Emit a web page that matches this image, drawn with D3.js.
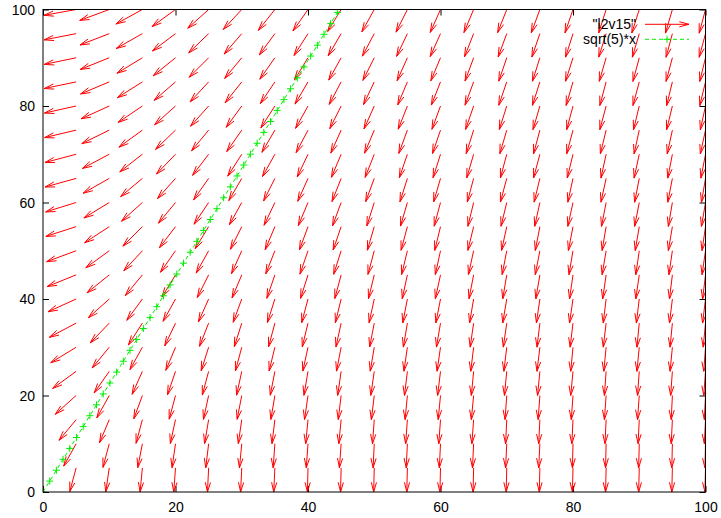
<!DOCTYPE html>
<html>
<head>
<meta charset="utf-8">
<script src="https://cdn.jsdelivr.net/npm/d3@7"></script>
<style>
  html, body { margin: 0; padding: 0; background: #fff; }
  svg { display: block; }
  text { font-family: "Liberation Sans", Arial, sans-serif; font-size: 14px; fill: #000; }
</style>
</head>
<body>
<svg id="chart" width="721" height="518"></svg>
<script>
// ---- data ----
const fieldX = [5,10,15,20,25,30,35,40,45,50,55,60,65,70,75,80,85,90,95,100];
const fieldY = [5,10,15,20,25,30,35,40,45,50,55,60,65,70,75,80,85,90,95,100];
// arrow direction per grid point: degrees below the leftward horizontal (rows follow fieldY)
const fieldAngles = [
  [79,84,86,87,88,88,88,89,89,89,89,89,89,89,89,89,89,89,89,89],
  [68,79,82,84,85,86,87,87,87,88,88,88,88,88,88,89,89,89,89,89],
  [59,73,79,81,83,84,85,86,86,87,87,87,87,88,88,88,88,88,88,88],
  [51,68,75,79,81,82,83,84,85,85,86,86,86,87,87,87,87,87,88,88],
  [45,63,72,76,79,81,82,83,84,84,85,85,86,86,86,86,87,87,87,87],
  [40,59,68,73,77,79,80,81,82,83,84,84,85,85,85,86,86,86,86,87],
  [36,55,65,71,74,77,79,80,81,82,83,83,84,84,85,85,85,86,86,86],
  [32,51,62,68,72,75,77,79,80,81,82,82,83,83,84,84,85,85,85,85],
  [29,48,59,66,70,73,76,77,79,80,81,81,82,83,83,84,84,84,85,85],
  [27,45,56,63,68,72,74,76,77,79,80,81,81,82,82,83,83,84,84,84],
  [24,42,54,61,66,70,73,75,76,78,79,80,80,81,82,82,83,83,83,84],
  [23,40,51,59,64,68,71,73,75,77,78,79,80,80,81,81,82,82,83,83],
  [21,38,49,57,63,67,70,72,74,75,77,78,79,79,80,81,81,82,82,83],
  [20,36,47,55,61,65,68,71,73,74,76,77,78,79,79,80,81,81,82,82],
  [18,34,45,53,59,63,67,69,72,73,75,76,77,78,79,79,80,81,81,81],
  [17,32,43,51,57,62,65,68,70,72,74,75,76,77,78,79,79,80,80,81],
  [16,30,41,50,56,60,64,67,69,71,73,74,75,76,77,78,79,79,80,80],
  [16,29,40,48,54,59,63,66,68,70,72,73,75,76,77,77,78,79,79,80],
  [15,28,38,46,53,58,62,65,67,69,71,72,74,75,76,77,77,78,79,79],
  [14,27,37,45,51,56,60,63,66,68,70,72,73,74,75,76,77,77,78,79]
];
const arrowLength = 5;
const curveX = [0,1.01,2.02,3.03,4.04,5.05,6.06,7.07,8.08,9.09,10.10,11.11,12.12,13.13,14.14,15.15,16.16,17.17,18.18,19.19,20.20,21.21,22.22,23.23,24.24,25.25,26.26,27.27,28.28,29.29,30.30,31.31,32.32,33.33,34.34,35.35,36.36,37.37,38.38,39.39,40.40,41.41,42.42,43.43,44.44,45.45];
const curveY = [0,2.26,4.52,6.78,9.03,11.29,13.55,15.81,18.07,20.33,22.59,24.85,27.10,29.36,31.62,33.88,36.14,38.40,40.66,42.91,45.17,47.43,49.69,51.95,54.21,56.47,58.72,60.98,63.24,65.50,67.76,70.02,72.28,74.54,76.79,79.05,81.31,83.57,85.83,88.09,90.35,92.60,94.86,97.12,99.38,101.64];
const xTicks = [0,20,40,60,80,100];
const yTicks = [0,20,40,60,80,100];
const seriesNames = ['"l2v15"', 'sqrt(5)*x'];

// ---- layout ----
const W = 721, H = 518;
const pLeft = 43, pRight = 705.5, pTop = 9.5, pBottom = 492;
const red = "#ff0000", green = "#00ee00";
const headLen = 10, headAng = 15 * Math.PI / 180;

const svg = d3.select("#chart");
svg.append("rect").attr("width", W).attr("height", H).attr("fill", "#fff");

const x = d3.scaleLinear().domain([0, 100]).range([pLeft, pRight]);
const y = d3.scaleLinear().domain([0, 100]).range([pBottom, pTop]);

svg.append("defs").append("clipPath").attr("id", "plotclip")
  .append("rect").attr("x", pLeft).attr("y", pTop).attr("width", pRight - pLeft).attr("height", pBottom - pTop);

// axes with inward ticks on all four sides
function styleAxis(g) {
  g.select(".domain").remove();
  g.selectAll(".tick line").attr("stroke", "#000").attr("stroke-width", 1);
  g.selectAll(".tick text").style("font-family", '"Liberation Sans", Arial, sans-serif').style("font-size", "14px").attr("fill", "#000");
}
const gx = svg.append("g").attr("transform", `translate(0,${pBottom})`)
  .call(d3.axisBottom(x).tickValues(xTicks).tickSize(-6).tickFormat(d3.format("d")));
styleAxis(gx);
gx.selectAll(".tick text").attr("y", 20).attr("dy", 0);

const gxt = svg.append("g").attr("transform", `translate(0,${pTop})`)
  .call(d3.axisTop(x).tickValues(xTicks).tickSize(-6).tickFormat(""));
styleAxis(gxt);

const gy = svg.append("g").attr("transform", `translate(${pLeft},0)`)
  .call(d3.axisLeft(y).tickValues(yTicks).tickSize(-6).tickFormat(d3.format("d")));
styleAxis(gy);
gy.selectAll(".tick text").attr("x", -8).attr("dy", "0.34em");

const gyr = svg.append("g").attr("transform", `translate(${pRight},0)`)
  .call(d3.axisRight(y).tickValues(yTicks).tickSize(-6).tickFormat(""));
styleAxis(gyr);

// arrow drawing helper (pixel coords)
function arrowPath(x1, y1, x2, y2) {
  const a = Math.atan2(y2 - y1, x2 - x1);
  const hx1 = x2 - headLen * Math.cos(a - headAng), hy1 = y2 - headLen * Math.sin(a - headAng);
  const hx2 = x2 - headLen * Math.cos(a + headAng), hy2 = y2 - headLen * Math.sin(a + headAng);
  return `M${x1},${y1}L${x2},${y2}M${hx1},${hy1}L${x2},${y2}L${hx2},${hy2}`;
}

// vector field
const vectors = [];
fieldY.forEach((yv, r) => {
  fieldX.forEach((xv, c) => {
    const phi = fieldAngles[r][c] * Math.PI / 180;
    vectors.push({ x: xv, y: yv, dx: -arrowLength * Math.cos(phi), dy: -arrowLength * Math.sin(phi) });
  });
});
svg.append("g").attr("clip-path", "url(#plotclip)")
  .selectAll("path").data(vectors).join("path")
  .attr("d", d => arrowPath(x(d.x), y(d.y), x(d.x + d.dx), y(d.y + d.dy)))
  .attr("fill", "none").attr("stroke", red).attr("stroke-width", 1);

// sqrt(5)*x curve
const pts = curveX.map((v, i) => [v, curveY[i]]);
const gc = svg.append("g").attr("clip-path", "url(#plotclip)");
gc.append("path")
  .attr("d", d3.line().x(d => x(d[0])).y(d => y(d[1]))(pts))
  .attr("fill", "none").attr("stroke", green).attr("stroke-width", 1).attr("stroke-dasharray", "4,3");
const plus = 3.5;
gc.selectAll("path.pt").data(pts.filter(d => d[1] <= 100)).join("path").attr("class", "pt")
  .attr("d", d => `M${x(d[0]) - plus},${y(d[1])}H${x(d[0]) + plus}M${x(d[0])},${y(d[1]) - plus}V${y(d[1]) + plus}`)
  .attr("stroke", green).attr("stroke-width", 1);

// legend
const keyTextX = 636, keyX1 = 645, keyX2 = 689;
const keyRows = [24.3, 39.3];
svg.append("text").attr("x", keyTextX).attr("y", keyRows[0]).attr("dy", "0.34em")
  .attr("text-anchor", "end").text(seriesNames[0]);
svg.append("path").attr("d", arrowPath(keyX1, keyRows[0], keyX2, keyRows[0]))
  .attr("fill", "none").attr("stroke", red).attr("stroke-width", 1);
svg.append("text").attr("x", keyTextX).attr("y", keyRows[1]).attr("dy", "0.34em")
  .attr("text-anchor", "end").text(seriesNames[1]);
svg.append("path").attr("d", `M${keyX1},${keyRows[1]}H${keyX2}`)
  .attr("stroke", green).attr("stroke-width", 1).attr("stroke-dasharray", "4,3");
const kmx = (keyX1 + keyX2) / 2;
svg.append("path").attr("d", `M${kmx - plus},${keyRows[1]}H${kmx + plus}M${kmx},${keyRows[1] - plus}V${keyRows[1] + plus}`)
  .attr("stroke", green).attr("stroke-width", 1);

// frame
svg.append("rect").attr("x", pLeft).attr("y", pTop).attr("width", pRight - pLeft).attr("height", pBottom - pTop)
  .attr("fill", "none").attr("stroke", "#000").attr("stroke-width", 1);
</script>
</body>
</html>
